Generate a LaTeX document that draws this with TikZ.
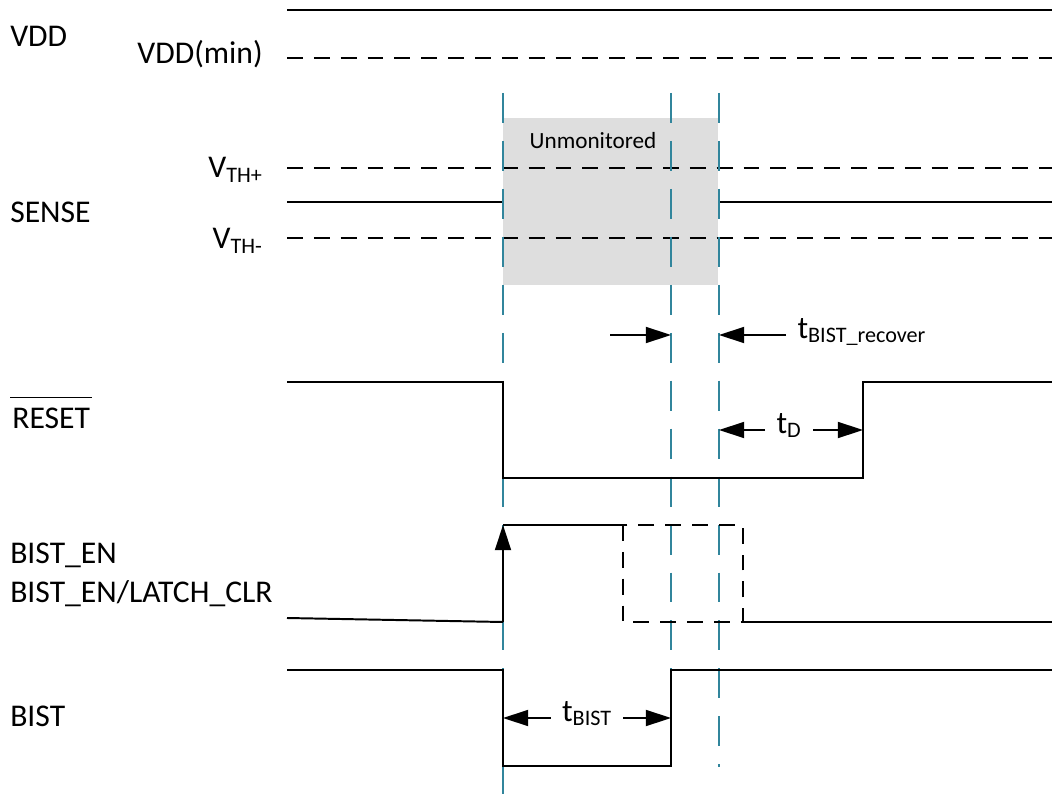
\documentclass[tikz,border=0pt]{standalone}
\usepackage{fontspec}
\usepackage{amsmath}
\setmainfont{Carlito}
\usetikzlibrary{arrows.meta, positioning, calc}
\definecolor{tealmark}{HTML}{31859C}
\definecolor{quietgrey}{HTML}{DEDEDE}
\newcommand{\barred}[1]{$\overline{\rule{0pt}{19pt}\kern1.5pt\text{#1}\kern1.5pt}$}

\begin{document}
\begin{tikzpicture}[x=0.025cm, y=-0.025cm, font=\fontsize{22.5}{27}\selectfont,
    wave/.style={black, line width=1.4pt},
    level/.style={black, line width=1.4pt, dash pattern=on 11.3pt off 7.8pt},
    markline/.style={tealmark, line width=1.4pt, dash pattern=on 21.3pt off 12.8pt},
    span/.style={-{Triangle[length=6.3mm, width=4mm]}, black, line width=1.4pt},
    signame/.style={anchor=base west, inner sep=0pt},
    lvlname/.style={anchor=base east, inner sep=0pt},
    gap/.style={inner xsep=8pt, inner ysep=0pt, anchor=mid}]
  \useasboundingbox (0,0) rectangle (1052,800);

  % signal names and levels
  \node[signame] (vdd) at (10,47) {VDD};
  \node[signame] (sense) at (10,223) {SENSE};
  \node[signame] (rst) at (10,428) {\barred{RESET}};
  \node[signame] (en) at (10,563) {BIST\_EN};
  \node[signame] (enclr) at (10,602) {BIST\_EN/LATCH\_CLR};
  \node[signame] (bist) at (10,726) {BIST};
  \node[lvlname] (vmin) at (263,64) {VDD(min)};
  \node[lvlname] (thp) at (263,178) {V\textsubscript{TH+}};
  \node[lvlname] (thm) at (263,249) {V\textsubscript{TH-}};

  % supply and sense
  \fill[quietgrey] (503,118) rectangle (718,285);
  \node[anchor=base, inner sep=0pt, font=\fontsize{16.5}{20}\selectfont] (unmon)
    at (593,149) {Unmonitored};
  \draw[wave] (287,10) -- (1052,10);
  \draw[level] (287,58) -- (1052,58);
  \draw[level] (287,168) -- (1052,168);
  \draw[wave] (287,202) -- (503,202);
  \draw[wave] (718,202) -- (1052,202);
  \draw[level] (287,238) -- (1052,238);

  % timing markers
  \foreach \x/\y in {503/800, 671/767, 719/767}
    \draw[markline] (\x,93) -- (\x,\y);

  % waveforms
  \draw[wave] (287,382) -- (503,382) -- (503,478) -- (863,478) -- (863,382) -- (1052,382);
  \draw[wave] (287,618) -- (503,622);
  \draw[span] (503,622) -- (503,525);
  \draw[wave] (503,525) -- (623,525);
  \draw[level] (623,525) rectangle (743,622);
  \draw[wave] (743,622) -- (1052,622);
  \draw[wave] (287,670) -- (503,670) -- (503,766) -- (671,766) -- (671,670) -- (1052,670);

  % intervals
  \coordinate (recA) at (610,335);
  \coordinate (recB) at (671,335);
  \coordinate (recC) at (719,335);
  \node[gap, anchor=mid west] (trec) at (786,335) {t\textsubscript{BIST\_recover}};
  \draw[span] (recA) -- (recB);
  \draw[span] (trec.mid west) -- (recC);

  \coordinate (dA) at (719,430);
  \coordinate (dB) at (863,430);
  \node[gap] (td) at (789,430) {t\textsubscript{D}};
  \draw[span] (td.mid west) -- (dA);
  \draw[span] (td.mid east) -- (dB);

  \coordinate (bA) at (503,718);
  \coordinate (bB) at (671,718);
  \node[gap] (tb) at (587,718) {t\textsubscript{BIST}};
  \draw[span] (tb.mid west) -- (bA);
  \draw[span] (tb.mid east) -- (bB);
\end{tikzpicture}
\end{document}
